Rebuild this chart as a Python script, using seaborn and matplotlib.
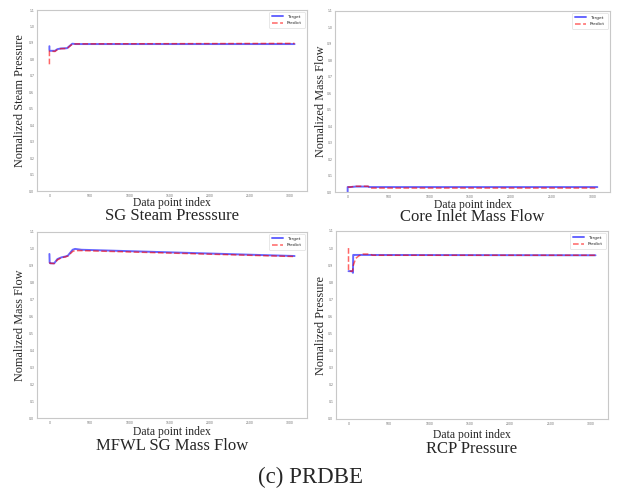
import numpy as np
import pandas as pd
import matplotlib
matplotlib.use("Agg")
import matplotlib.pyplot as plt
import seaborn as sns

sns.set_style("white")
plt.rcParams["font.family"] = ["DejaVu Sans"]
serif = "Liberation Serif"

# SG Steam Pressure
sg_x_target = [0, 0, 3, 70, 100, 140, 220, 285, 330, 3060]
sg_y_target = [0.88, 0.86, 0.852, 0.852, 0.862, 0.866, 0.868, 0.895, 0.893, 0.893]
sg_x_predict = [0, 0, 3, 70, 100, 140, 220, 285, 330, 3060]
sg_y_predict = [0.77, 0.85, 0.85, 0.848, 0.86, 0.865, 0.866, 0.892, 0.894, 0.897]

# Core Inlet Mass Flow
core_x_target = [0, 0, 30, 100, 250, 270, 3060]
core_y_target = [0.0, 0.03, 0.03, 0.033, 0.033, 0.03, 0.03]
core_x_predict = [0, 30, 100, 250, 270, 3060]
core_y_predict = [0.03, 0.03, 0.035, 0.035, 0.024, 0.024]

# MFWL SG Mass Flow
mfwl_x_target = [0, 3, 10, 60, 100, 150, 200, 230, 290, 320, 400, 3060]
mfwl_y_target = [0.97, 0.92, 0.915, 0.915, 0.94, 0.95, 0.955, 0.96, 0.995, 1.0, 0.995, 0.958]
mfwl_x_predict = [0, 3, 10, 60, 100, 150, 200, 230, 290, 320, 400, 3060]
mfwl_y_predict = [0.92, 0.918, 0.915, 0.913, 0.935, 0.948, 0.953, 0.958, 0.985, 0.99, 0.99, 0.955]

# RCP Pressure
rcp_x_target = [0, 45, 55, 58, 60, 3060]
rcp_y_target = [0.865, 0.865, 0.855, 0.96, 0.96, 0.958]
rcp_x_predict = [0, 0, 50, 60, 90, 130, 180, 260, 300, 3060]
rcp_y_predict = [1.0, 0.865, 0.865, 0.9, 0.94, 0.955, 0.965, 0.965, 0.958, 0.958]

panels = [
    ("SG Steam Presssure", "Nomalized Steam Pressure", sg_x_target, sg_y_target, sg_x_predict, sg_y_predict),
    ("Core Inlet Mass Flow", "Nomalized Mass Flow", core_x_target, core_y_target, core_x_predict, core_y_predict),
    ("MFWL SG Mass Flow", "Nomalized Mass Flow", mfwl_x_target, mfwl_y_target, mfwl_x_predict, mfwl_y_predict),
    ("RCP Pressure", "Nomalized Pressure", rcp_x_target, rcp_y_target, rcp_x_predict, rcp_y_predict),
]

W, H = 623, 494
# axes boxes in pixels: left, top, right, bottom
boxes = [(37, 10, 307, 191), (335, 11, 610, 192), (37, 232, 307, 418), (336, 231, 608, 419)]
xlabel_y = [203, 204.5, 432, 434.5]
title_y = [216, 217, 446, 448.5]
ylabel_x = [20, 321, 20, 321]

fig = plt.figure(figsize=(W / 100, H / 100), dpi=100)

for i, (title, ylab, xt, yt, xp, yp) in enumerate(panels):
    l, t, r, b = boxes[i]
    ax = fig.add_axes([l / W, 1 - b / H, (r - l) / W, (b - t) / H])
    sns.lineplot(x=xt, y=yt, ax=ax, color="blue", alpha=0.6, linewidth=1.4,
                 estimator=None, sort=False, label="Target")
    sns.lineplot(x=xp, y=yp, ax=ax, color="red", alpha=0.6, linewidth=1.1,
                 linestyle="--", estimator=None, sort=False, label="Predict")
    ax.set_ylim(0, 1.1)
    ax.set_yticks(np.arange(0, 1.11, 0.1))
    ax.set_yticklabels([f"{v:.1f}" for v in np.arange(0, 1.11, 0.1)])
    ax.set_xticks([0, 500, 1000, 1500, 2000, 2500, 3000])
    ax.set_xlim(-155, 3215)
    ax.tick_params(labelsize=2.2, length=1.2, width=0.4, colors="#666666", pad=0.8)
    for s in ax.spines.values():
        s.set_color("#c8c8c8")
        s.set_linewidth(0.8)
    ax.set_xlabel("")
    ax.set_ylabel("")
    leg = ax.legend(loc="upper right", fontsize=3.2, handlelength=2.6, frameon=True,
                    borderpad=0.6, labelspacing=0.5, handletextpad=0.8)
    leg.get_frame().set_linewidth(0.4)
    cx = (l + r) / 2 / W
    fig.text(cx, 1 - xlabel_y[i] / H, "Data point index", family=serif,
             fontsize=8.4, ha="center", va="center")
    fig.text(cx, 1 - title_y[i] / H, title, family=serif,
             fontsize=12, ha="center", va="center")
    fig.text(ylabel_x[i] / W, 1 - (t + b) / 2 / H, ylab, family=serif,
             fontsize=8.8, ha="center", va="center", rotation=90)

fig.text(311 / W, 1 - 477 / H, "(c) PRDBE", family=serif, fontsize=16.5,
         ha="center", va="center")

fig.savefig("out.png", dpi=100)
